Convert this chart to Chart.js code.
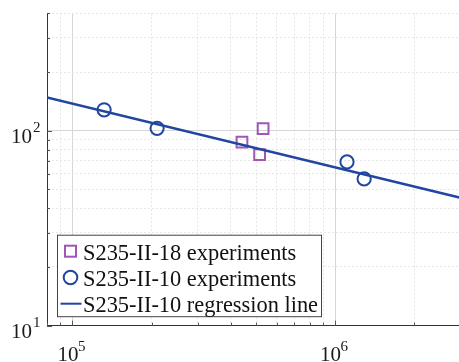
<!DOCTYPE html>
<html>
<head>
<meta charset="utf-8">
<script src="https://cdn.jsdelivr.net/npm/chart.js@4/dist/chart.umd.min.js"></script>
<style>
  html, body { margin: 0; padding: 0; background: #fff; overflow: hidden; }
  #wrap { position: relative; width: 470px; height: 362px; }
</style>
</head>
<body>
<div id="wrap"><canvas id="sn"></canvas></div>
<script>
// S235-II-18 test results (cycles, stress range)
const s18Cycles = [4.42e5, 5.32e5, 5.16e5];
const s18Stress = [87.5, 102.6, 75.5];

// S235-II-10 test results
const s10Cycles = [1.32e5, 2.10e5, 1.11e6, 1.29e6];
const s10Stress = [128, 102.8, 69.2, 56.6];

// S235-II-10 regression line end points
const regCycles = [8e4, 3e6];
const regStress = [148, 45.3];

const seriesNames = [
  'S235-II-18 experiments',
  'S235-II-10 experiments',
  'S235-II-10 regression line'
];

// grid positions and labelled decades
const xTicks = [8e4, 9e4, 1e5, 2e5, 3e5, 4e5, 5e5, 6e5, 7e5, 8e5, 9e5, 1e6, 2e6, 3e6];
const yTicks = [10, 20, 30, 40, 50, 60, 70, 80, 90, 100, 200, 300, 400];
const xDecades = [1e5, 1e6];
const yDecades = [10, 100];

const BLUE = '#2146a2';
const PURPLE = '#a056b4';
const SERIF = '"Liberation Serif", "Times New Roman", serif';

const pairs = (xs, ys) => xs.map((x, i) => ({ x: x, y: ys[i] }));
const isDecade = v => v != null && Math.abs(Math.log10(v) - Math.round(Math.log10(v))) < 1e-9;

const gridColor = ctx => isDecade(ctx.tick && ctx.tick.value) ? '#d6d6d6' : '#e6e6e6';
const gridDash = ctx => (ctx.tick && !isDecade(ctx.tick.value)) ? [2, 2] : [];

// "10" with a raised exponent under each decade, and inward tick marks
const decadeLabels = {
  id: 'decadeLabels',
  afterDraw(chart) {
    const { ctx, chartArea, scales } = chart;
    ctx.save();
    ctx.fillStyle = '#1a1a1a';
    ctx.textBaseline = 'alphabetic';

    xDecades.forEach(v => {
      const px = scales.x.getPixelForValue(v);
      ctx.font = '21px ' + SERIF;
      ctx.textAlign = 'left';
      ctx.fillText('10', px - 15, chartArea.bottom + 35);
      ctx.font = '15px ' + SERIF;
      ctx.fillText(String(Math.round(Math.log10(v))), px + 5.5, chartArea.bottom + 25);
    });

    yDecades.forEach(v => {
      const py = scales.y.getPixelForValue(v);
      ctx.font = '21px ' + SERIF;
      ctx.textAlign = 'right';
      ctx.fillText('10', chartArea.left - 15, py + 12.5);
      ctx.font = '15px ' + SERIF;
      ctx.textAlign = 'left';
      ctx.fillText(String(Math.round(Math.log10(v))), chartArea.left - 14, py + 1.5);
    });

    ctx.strokeStyle = '#555';
    ctx.lineWidth = 1;
    ctx.beginPath();
    scales.x.ticks.forEach(t => {
      const px = Math.round(scales.x.getPixelForValue(t.value)) + 0.5;
      const len = isDecade(t.value) ? 5 : 3;
      ctx.moveTo(px, chartArea.bottom);
      ctx.lineTo(px, chartArea.bottom - len);
    });
    scales.y.ticks.forEach(t => {
      const py = Math.round(scales.y.getPixelForValue(t.value)) + 0.5;
      const len = isDecade(t.value) ? 5 : 3;
      ctx.moveTo(chartArea.left, py);
      ctx.lineTo(chartArea.left + len, py);
    });
    ctx.stroke();
    ctx.restore();
  }
};

// boxed legend in the lower left corner of the plot
const boxLegend = {
  id: 'boxLegend',
  afterDraw(chart) {
    const { ctx, chartArea } = chart;
    const bx = chartArea.left + 10.5;
    const by = chartArea.bottom - 90.5;
    const bw = 264;
    const bh = 81.5;
    ctx.save();
    ctx.fillStyle = '#fff';
    ctx.fillRect(bx, by, bw, bh);
    ctx.strokeStyle = '#444';
    ctx.lineWidth = 1;
    ctx.strokeRect(bx, by, bw, bh);

    const rows = [16, 42.3, 68.5];
    chart.data.datasets.forEach((ds, i) => {
      const cy = by + rows[i];
      const cx = bx + 13;
      ctx.strokeStyle = ds.borderColor;
      if (ds.pointStyle === 'rect') {
        ctx.lineWidth = 2;
        ctx.strokeRect(cx - 5.5, cy - 5.5, 11, 11);
      } else if (ds.pointStyle === 'circle') {
        ctx.lineWidth = 2;
        ctx.beginPath();
        ctx.arc(cx, cy, 6.8, 0, Math.PI * 2);
        ctx.stroke();
      } else {
        ctx.lineWidth = 2;
        ctx.beginPath();
        ctx.moveTo(bx + 3, cy);
        ctx.lineTo(bx + 24, cy);
        ctx.stroke();
      }
      ctx.fillStyle = '#111';
      ctx.font = '22.4px ' + SERIF;
      ctx.textAlign = 'left';
      ctx.textBaseline = 'alphabetic';
      ctx.fillText(ds.label, bx + 25.5, cy + 8.7);
    });
    ctx.restore();
  }
};

new Chart(document.getElementById('sn'), {
  type: 'scatter',
  data: {
    datasets: [
      {
        label: seriesNames[0],
        data: pairs(s18Cycles, s18Stress),
        pointStyle: 'rect',
        pointRadius: 7.6,
        borderColor: PURPLE,
        backgroundColor: 'rgba(0,0,0,0)',
        borderWidth: 2,
        order: 3
      },
      {
        label: seriesNames[1],
        data: pairs(s10Cycles, s10Stress),
        pointStyle: 'circle',
        pointRadius: 6.6,
        borderColor: BLUE,
        backgroundColor: 'rgba(0,0,0,0)',
        borderWidth: 2,
        order: 2
      },
      {
        label: seriesNames[2],
        type: 'line',
        data: pairs(regCycles, regStress),
        pointStyle: false,
        pointRadius: 0,
        borderColor: BLUE,
        borderWidth: 2.4,
        showLine: true,
        fill: false,
        order: 1
      }
    ]
  },
  options: {
    responsive: true,
    maintainAspectRatio: false,
    animation: false,
    events: [],
    layout: { padding: { left: 47, top: 13.3, right: 8.5, bottom: 36.3 } },
    plugins: {
      legend: { display: false },
      tooltip: { enabled: false }
    },
    scales: {
      x: {
        type: 'logarithmic',
        min: 8e4,
        max: 3e6,
        afterBuildTicks: s => { s.ticks = xTicks.map(v => ({ value: v })); },
        afterFit: s => { s.height = 0; },
        ticks: { display: false, autoSkip: false },
        grid: { color: gridColor, lineWidth: 1, drawTicks: false },
        border: { display: true, color: '#333', width: 1, dash: gridDash }
      },
      y: {
        type: 'logarithmic',
        min: 10,
        max: 400,
        afterBuildTicks: s => { s.ticks = yTicks.map(v => ({ value: v })); },
        afterFit: s => { s.width = 0; },
        ticks: { display: false, autoSkip: false },
        grid: { color: gridColor, lineWidth: 1, drawTicks: false },
        border: { display: true, color: '#333', width: 1, dash: gridDash }
      }
    }
  },
  plugins: [decadeLabels, boxLegend]
});
</script>
</body>
</html>
